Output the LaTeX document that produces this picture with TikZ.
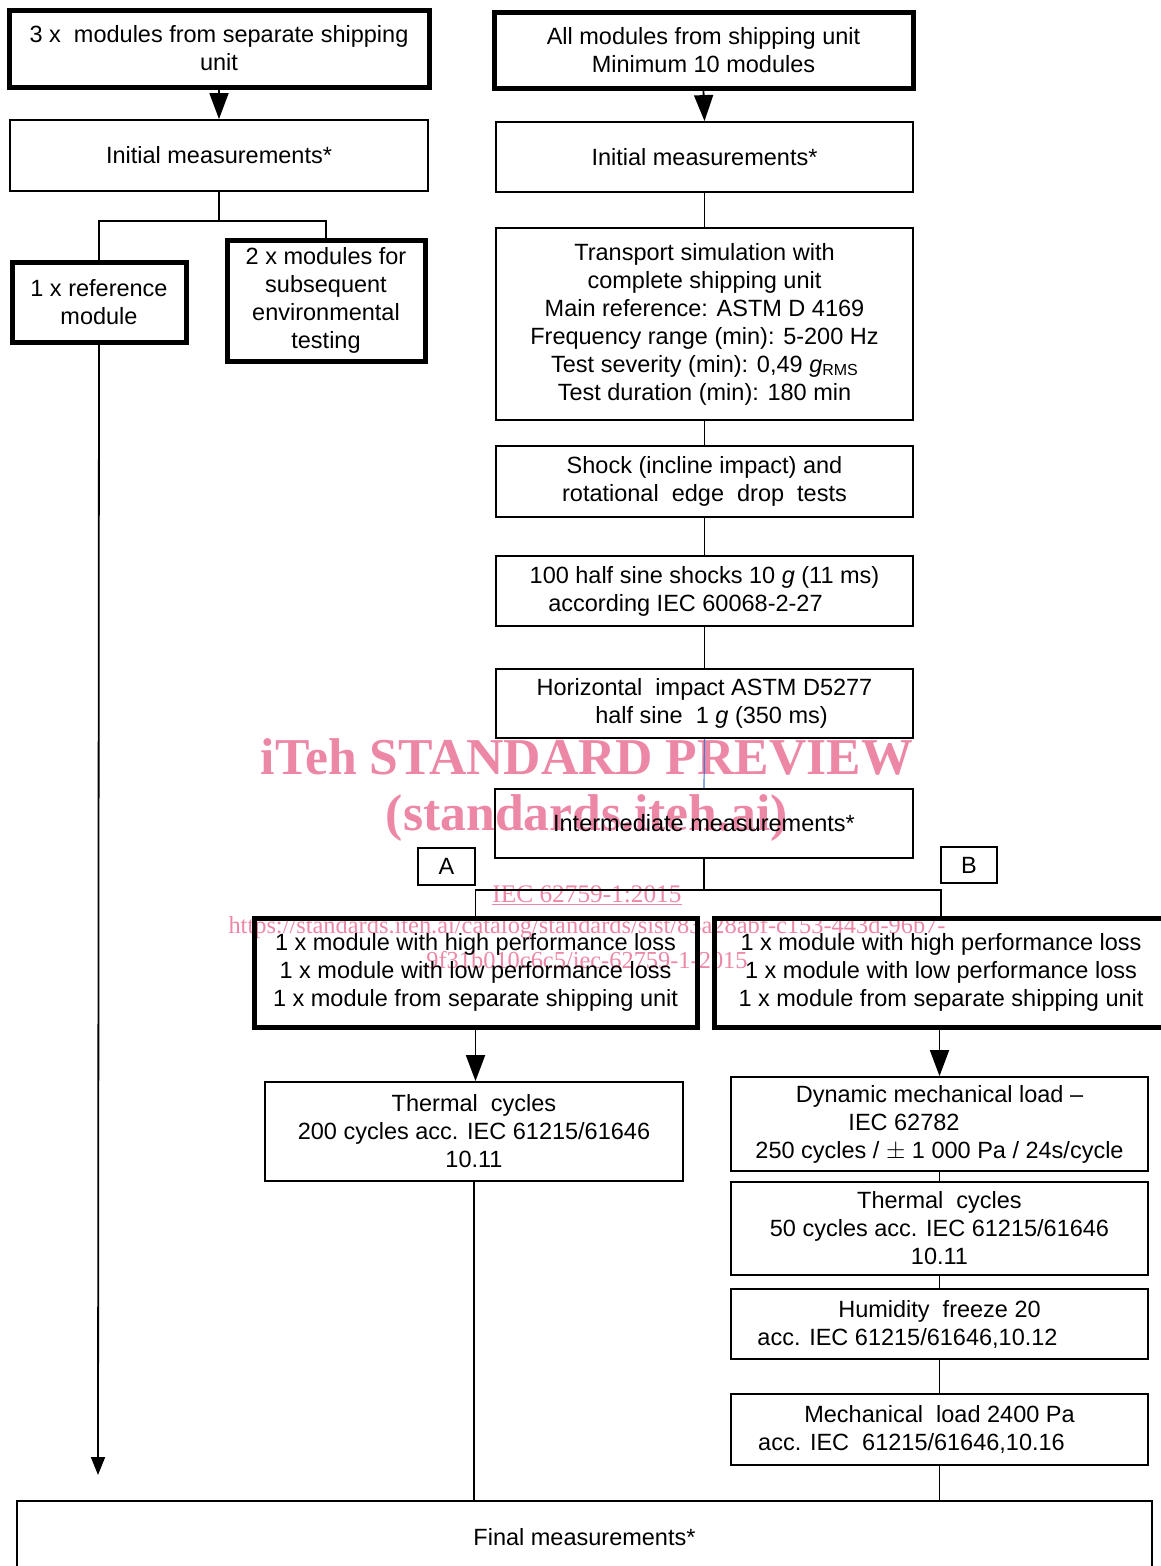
\documentclass[tikz,border=0pt]{standalone}
\usepackage{fontspec}
\setmainfont{Liberation Sans}
\newfontfamily\wmfont{Liberation Serif}
\usetikzlibrary{arrows.meta}
\definecolor{wm}{RGB}{236,135,165}
\definecolor{conblue}{RGB}{80,120,200}
\begin{document}
\begin{tikzpicture}[x=1pt,y=-1pt,
  box/.style={draw,line width=1.8pt,align=center,inner sep=0pt,
    font=\fontsize{23.5}{28}\selectfont},
  thickbox/.style={box,line width=5pt},
  con/.style={line width=1.8pt},
  arr/.style={con,-{Triangle[length=26pt,width=19pt]}},
  arrs/.style={con,-{Triangle[length=18pt,width=14pt]}},
  wmbig/.style={text=wm,font=\wmfont\bfseries\fontsize{51.7}{56}\selectfont},
  wmsmall/.style={text=wm,font=\wmfont\fontsize{24.4}{28}\selectfont}
]
\useasboundingbox (0,0) rectangle (1161,1566);
\clip (0,0) rectangle (1161,1566);
% watermark (behind the diagram)
\node[wmbig] (wm1) at (587,757) {iTeh STANDARD PREVIEW};
\node[wmbig] (wm2) at (587,818) {(standards.iteh.ai)};
\node[wmsmall,font=\wmfont\fontsize{25.3}{28}\selectfont] (wm3) at (587,895) {\underline{IEC 62759-1:2015}};
\node[wmsmall] (wm4) at (587,928) {https://standards.iteh.ai/catalog/standards/sist/83a28abf-c153-443d-96b7-};
\node[wmsmall] (wm5) at (587,960) {9f31b010c6c5/iec-62759-1-2015};
% left column
\node[thickbox,minimum width=420,minimum height=77] (L1) at (219,48.5)
  {3 x\ \ modules from separate shipping\\unit};
\node[box,minimum width=418,minimum height=71] (L2) at (219,155.5)
  {Initial measurements*};
\node[thickbox,minimum width=174,minimum height=80] (ref) at (99,302)
  {1 x reference\\module};
\node[thickbox,minimum width=198,minimum height=121] (two) at (326,300.5)
  {2 x modules for\\subsequent\\environmental\\testing};
% right column
\node[thickbox,minimum width=419,minimum height=76] (R1) at (703.5,50)
  {All modules from shipping unit\\Minimum 10 modules};
\node[box,minimum width=417,minimum height=70] (R2) at (704.5,157)
  {Initial measurements*};
\node[box,minimum width=417,minimum height=192] (R3) at (704.5,324)
  {Transport simulation with\\complete shipping unit\\Main reference: ASTM D 4169\\Frequency range (min): 5-200 Hz\\Test severity (min): 0,49 \textit{g}{\fontsize{16}{16}\selectfont\raisebox{-3pt}{RMS}}\\Test duration (min): 180 min};
\node[box,minimum width=417,minimum height=71] (R4) at (704.5,481.5)
  {Shock (incline impact) and\\rotational\ \ edge\ \ drop\ \ tests};
\node[box,minimum width=417,minimum height=70] (R5) at (704.5,591)
  {100 half sine shocks 10 \textit{g} (11 ms)\\according IEC 60068-2-27\hspace*{38pt}\null};
\node[box,minimum width=417,minimum height=69] (R6) at (704.5,703.5)
  {Horizontal\ \ impact ASTM D5277\\\hspace*{14pt}half sine\ \ 1 \textit{g} (350 ms)};
\node[box,minimum width=418,minimum height=69] (R7) at (704,823.5)
  {Intermediate measurements*};
\node[box,minimum width=57,minimum height=37] (A) at (446.5,866.5) {A};
\node[box,minimum width=56,minimum height=36] (B) at (969,865) {B};
\node[thickbox,minimum width=443,minimum height=109] (Ag) at (475.5,972.5)
  {1 x module with high performance loss\\1 x module with low performance loss\\1 x module from separate shipping unit};
\node[thickbox,minimum width=454,minimum height=109] (Bg) at (941,972.5)
  {1 x module with high performance loss\\1 x module with low performance loss\\1 x module from separate shipping unit};
\node[box,minimum width=418,minimum height=99] (ThA) at (474,1131.5)
  {Thermal\ \ cycles\\200 cycles acc. IEC 61215/61646\\10.11};
\node[box,minimum width=417,minimum height=94] (Dyn) at (939.5,1124)
  {Dynamic mechanical load --\\IEC 62782\hspace*{71pt}\null\\250 cycles / $\pm$ 1 000 Pa / 24s/cycle};
\node[box,minimum width=417,minimum height=93] (ThB) at (939.5,1228.5)
  {Thermal\ \ cycles\\50 cycles acc. IEC 61215/61646\\10.11};
\node[box,minimum width=417,minimum height=70] (Hum) at (939.5,1324)
  {Humidity\ \ freeze 20\\acc. IEC 61215/61646,10.12\hspace*{64pt}\null};
\node[box,minimum width=417,minimum height=71] (Mech) at (939.5,1429.5)
  {Mechanical\ \ load 2400 Pa\\acc. IEC\ \ 61215/61646,10.16\hspace*{56pt}\null};
\node[box,minimum width=1135,minimum height=73] (Fin) at (584.5,1537.5)
  {Final measurements*};
% connectors left
\draw[arr] (L1.south) -- (L2.north);
\coordinate (jL) at (219,221);
\draw[con] (L2.south) -- (jL);
\draw[con] (ref.north) |- (jL) -| (two.north);
\coordinate (refEnd) at (98,1475);
\draw[arrs] (ref.south) -- (refEnd);
% connectors right
\draw[arr] (R1.south) -- (R2.north);
\draw[con] (R2.south) -- (R3.north);
\draw[con] (R3.south) -- (R4.north);
\draw[con] (R4.south) -- (R5.north);
\draw[con] (R5.south) -- (R6.north);
\draw[conblue,line width=1.2pt] (R6.south) -- (R7.north);
\coordinate (jR) at (704,890);
\draw[con] (R7.south) -- (jR);
\draw[con] (Ag.north) |- (jR) -| (Bg.north);
\draw[arr] (Ag.south) -- (Ag.south |- ThA.north);
\draw[con] (ThA.south) -- (ThA.south |- Fin.north);
\draw[arr] (Dyn.north |- Bg.south) -- (Dyn.north);
\draw[con] (Dyn.south) -- (ThB.north);
\draw[con] (ThB.south) -- (Hum.north);
\draw[con] (Hum.south) -- (Mech.north);
\draw[con] (Mech.south) -- (Mech.south |- Fin.north);
\end{tikzpicture}
\end{document}
